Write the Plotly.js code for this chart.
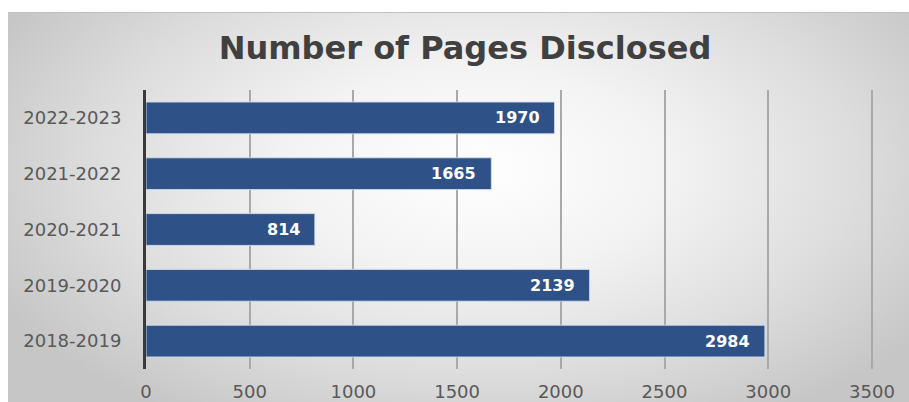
<!DOCTYPE html>
<html>
<head>
<meta charset="utf-8">
<script src="https://cdn.plot.ly/plotly-3.0.1.min.js"></script>
<style>
  html, body { margin: 0; padding: 0; background: #ffffff; }
  #wrap { position: relative; width: 909px; height: 402px; background: #ffffff; }
  #bg { position: absolute; left: 8px; top: 12px; width: 901px; height: 390px;
        background: radial-gradient(ellipse 60% 75% at 52% 40%, #ffffff 0%, #f3f3f3 35%, #dddddd 70%, #c6c6c6 100%);
        border-top: 1px solid #c0c0c0; }
  #chart { position: absolute; left: 0; top: 0; width: 909px; height: 402px; }
</style>
</head>
<body>
<div id="wrap">
  <div id="bg"></div>
  <div id="chart"></div>
</div>
<script>
const chartTitle = 'Number of Pages Disclosed';
const categories = ['2018-2019', '2019-2020', '2020-2021', '2021-2022', '2022-2023'];
const pages = [2984, 2139, 814, 1665, 1970];
const xTickValues = [0, 500, 1000, 1500, 2000, 2500, 3000, 3500];

const trace = {
  type: 'bar',
  orientation: 'h',
  x: pages,
  y: categories,
  marker: { color: '#2E5287', line: { color: 'rgba(210,222,240,0.9)', width: 1 } },
  hoverinfo: 'x+y'
};

const annotations = pages.map((v, i) => ({
  x: v, y: categories[i], xref: 'x', yref: 'y',
  text: String(v), showarrow: false,
  xanchor: 'right', yanchor: 'middle', xshift: -13,
  font: { family: 'DejaVu Sans', size: 16, color: '#ffffff', weight: 'bold' }
}));

const layout = {
  width: 909, height: 402,
  margin: { l: 146, r: 35, t: 90, b: 33, pad: 0 },
  paper_bgcolor: 'rgba(0,0,0,0)',
  plot_bgcolor: 'rgba(0,0,0,0)',
  title: {
    text: '<b>' + chartTitle + '</b>',
    xref: 'container', yref: 'container',
    x: 465 / 909, xanchor: 'center',
    y: 1 - 48 / 402, yanchor: 'middle',
    font: { family: 'DejaVu Sans', size: 32, color: '#404040' }
  },
  bargap: 0.43,
  showlegend: false,
  xaxis: {
    range: [0, 3510],
    tickvals: xTickValues,
    ticktext: xTickValues.map(String),
    showgrid: true, gridcolor: '#a9a9a9', gridwidth: 2,
    zeroline: false, showline: false,
    ticks: '', ticklabelstandoff: 10,
    tickfont: { family: 'DejaVu Sans', size: 18, color: '#595959' },
    fixedrange: true
  },
  yaxis: {
    type: 'category',
    categoryorder: 'array', categoryarray: categories,
    showgrid: false, zeroline: false,
    showline: true, linecolor: '#3a3a3a', linewidth: 3,
    ticks: '', ticklabelstandoff: 18,
    tickfont: { family: 'DejaVu Sans', size: 18, color: '#595959' },
    fixedrange: true
  },
  annotations: annotations
};

Plotly.newPlot('chart', [trace], layout, { displayModeBar: false, staticPlot: true });
</script>
</body>
</html>
